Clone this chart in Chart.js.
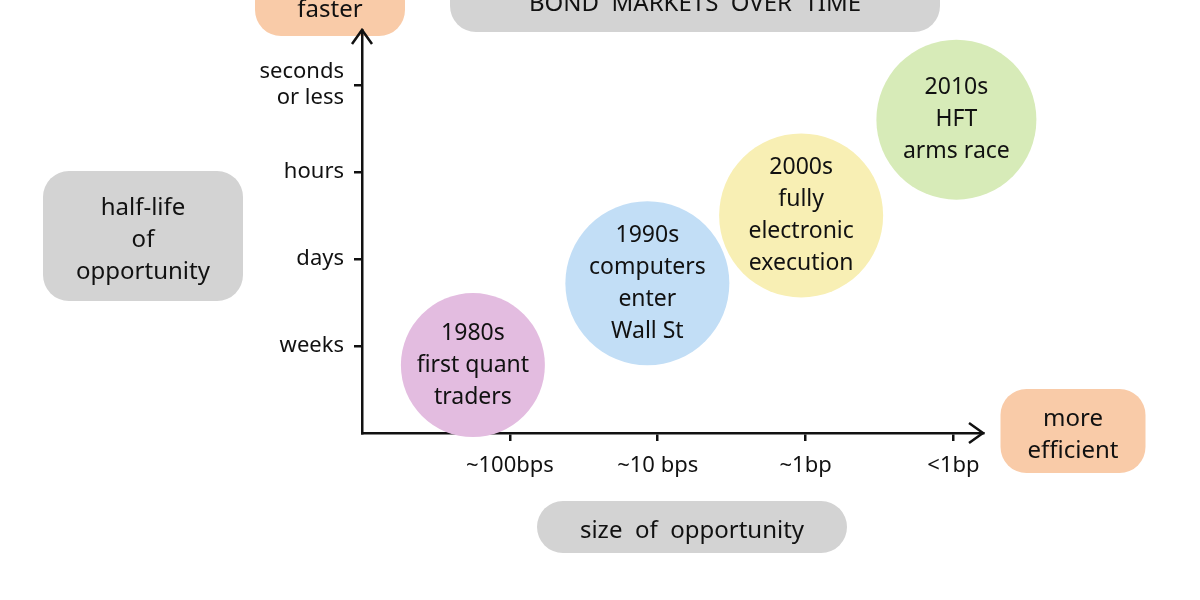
<!DOCTYPE html>
<html>
<head>
<meta charset="utf-8">
<script src="https://cdn.jsdelivr.net/npm/chart.js@4/dist/chart.umd.min.js"></script>
<style>
  html, body { margin: 0; background: #fff; }
</style>
</head>
<body>
<canvas id="eras" width="1200" height="600"></canvas>
<script>
// x: size of opportunity (1..4), y: half-life (1..4)
const xTickLabels = ['~100bps', '~10 bps', '~1bp', '<1bp']
const yTickLabels = ['weeks', 'days', 'hours', ['seconds', 'or less']]

const eraNames = ['1980s', '1990s', '2000s', '2010s']
const eraText = [
    ['1980s', 'first quant', 'traders'],
    ['1990s', 'computers', 'enter', 'Wall St'],
    ['2000s', 'fully', 'electronic', 'execution'],
    ['2010s', 'HFT', 'arms race']
]
const eraX = [0.75, 1.93, 2.97, 4.02]
const eraY = [0.78, 1.72, 2.5, 3.6]
const eraSize = [72, 82, 82, 80]
const eraColors = ['#e3bce0', '#c2def6', '#f8efb4', '#d7ebb8']

const hand = '"Noto Sans", sans-serif'

// grey / orange sticky-note labels around the chart
const notes = [
    {text: ['BOND  MARKETS  OVER  TIME'], x: 695, y: 0, w: 490, h: 64, color: '#d3d3d3'},
    {text: ['faster'], x: 330, y: 6, w: 150, h: 60, color: '#f9cba8'},
    {text: ['half-life', 'of', 'opportunity'], x: 143, y: 236, w: 200, h: 130, color: '#d3d3d3'},
    {text: ['size  of  opportunity'], x: 692, y: 527, w: 310, h: 52, color: '#d3d3d3'},
    {text: ['more', 'efficient'], x: 1073, y: 431, w: 145, h: 84, color: '#f9cba8'}
]

const notesPlugin = {
    id: 'notes',
    beforeDraw(chart) {
        const ctx = chart.ctx
        ctx.save()
        notes.forEach(n => {
            ctx.fillStyle = n.color
            ctx.beginPath()
            ctx.roundRect(n.x - n.w / 2, n.y - n.h / 2, n.w, n.h, 26)
            ctx.fill()
        })
        ctx.restore()
    },
    afterDraw(chart) {
        const ctx = chart.ctx
        const xs = chart.scales.x, ys = chart.scales.y
        ctx.save()
        ctx.fillStyle = '#111'
        ctx.textAlign = 'center'
        ctx.textBaseline = 'middle'
        ctx.font = '24px ' + hand
        notes.forEach(n => {
            n.text.forEach((t, i) => {
                ctx.fillText(t, n.x, n.y + 4 + (i - (n.text.length - 1) / 2) * 32)
            })
        })
        // era labels inside the blobs
        ctx.font = '23px ' + hand
        eraText.forEach((lines, k) => {
            const cx = xs.getPixelForValue(eraX[k]), cy = ys.getPixelForValue(eraY[k])
            lines.forEach((t, i) => {
                ctx.fillText(t, cx, cy + (i - (lines.length - 1) / 2) * 32)
            })
        })
        // arrow heads
        ctx.strokeStyle = '#111'
        ctx.lineWidth = 2.5
        const ox = xs.left, top = ys.top, right = xs.right, oy = ys.bottom
        ctx.beginPath()
        ctx.moveTo(ox - 10, top + 14); ctx.lineTo(ox, top); ctx.lineTo(ox + 10, top + 14)
        ctx.moveTo(right - 14, oy - 10); ctx.lineTo(right, oy); ctx.lineTo(right - 14, oy + 10)
        ctx.stroke()
        ctx.restore()
    }
}

new Chart('eras', {
    type: 'bubble',
    data: {
        datasets: [{
            label: 'eras',
            data: eraNames.map((n, i) => ({x: eraX[i], y: eraY[i], r: eraSize[i]})),
            backgroundColor: eraColors,
            borderWidth: 0,
            clip: false
        }]
    },
    plugins: [notesPlugin],
    options: {
        responsive: false,
        animation: false,
        layout: {autoPadding: false, padding: {left: 252, right: 217, top: 30, bottom: 107}},
        plugins: {legend: {display: false}, tooltip: {enabled: false}},
        scales: {
            x: {
                type: 'linear', min: 0, max: 4.2,
                afterFit: s => { s.height = 60; s.paddingLeft = 0; s.paddingRight = 0 },
                border: {color: '#111', width: 2.5},
                grid: {drawOnChartArea: false, tickLength: 8, color: '#111', lineWidth: 2.5},
                ticks: {
                    color: '#111', font: {size: 22, family: hand}, padding: 12,
                    callback: v => xTickLabels[v - 1]
                },
                afterBuildTicks: s => { s.ticks = [1, 2, 3, 4].map(v => ({value: v})) }
            },
            y: {
                type: 'linear', min: 0, max: 4.63,
                afterFit: s => { s.width = 110; s.paddingTop = 0; s.paddingBottom = 0 },
                border: {color: '#111', width: 2.5},
                grid: {drawOnChartArea: false, tickLength: 8, color: '#111', lineWidth: 2.5},
                ticks: {
                    color: '#111', font: {size: 22, family: hand}, padding: 10,
                    callback: v => yTickLabels[v - 1]
                },
                afterBuildTicks: s => { s.ticks = [1, 2, 3, 4].map(v => ({value: v})) }
            }
        }
    }
})
</script>
</body>
</html>
